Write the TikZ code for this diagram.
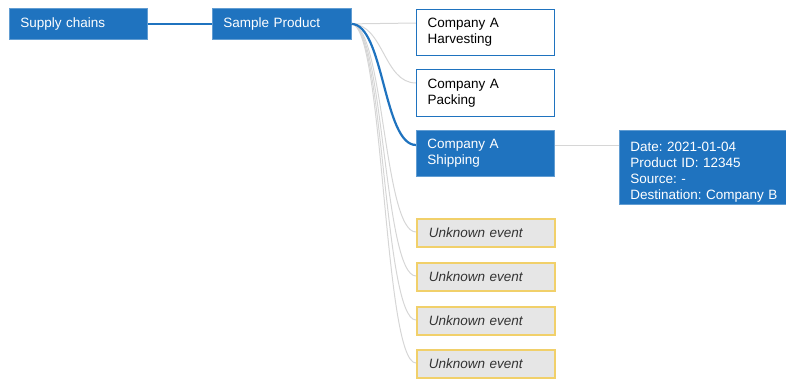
\documentclass[tikz,border=0pt]{standalone}
\usepackage{fontspec}
\setmainfont{Liberation Sans}
\frenchspacing
\definecolor{bblue}{HTML}{1F73BF}
\definecolor{ylw}{HTML}{F1D06A}
\definecolor{ufill}{HTML}{E6E6E6}
\definecolor{lgray}{HTML}{D6D6D6}
\definecolor{utext}{HTML}{333333}
\tikzset{
  base/.style={anchor=north west, inner xsep=11pt, inner ysep=0pt, align=left,
    font=\fontsize{13.5}{16}\selectfont\frenchspacing},
  bluebox/.style={base, fill=bblue, draw=bblue!70!white, line width=0.8pt, text=white},
  whitebox/.style={base, fill=white, draw=bblue, line width=1.2pt, text=black},
  unkbox/.style={base, fill=ufill, draw=ylw, line width=1.5pt, text=utext,
    font=\fontsize{13.5}{16}\selectfont\itshape, inner xsep=12pt},
  glink/.style={draw=lgray, line width=1pt},
  blink/.style={draw=bblue, line width=2.2pt},
}
\begin{document}
\begin{tikzpicture}[x=1pt,y=-1pt]
\useasboundingbox (0,0) rectangle (786,378);
% nodes
\node[bluebox, minimum width=138pt, minimum height=31pt, text width=116pt] (sc) at (9,8) {Supply chains};
\node[bluebox, minimum width=139pt, minimum height=31pt, text width=117pt] (sp) at (212,8) {Sample Product};
% links (behind target boxes)
\draw[blink] (sc.east) -- (sp.west);
\coordinate (s) at ([xshift=-0.5pt]sp.east);
\coordinate (th) at (416,23);
\coordinate (tp) at (416,83);
\coordinate (ts) at (416,145);
\coordinate (u1) at (416,232);
\coordinate (u2) at (416,276);
\coordinate (u3) at (416,320);
\coordinate (u4) at (416,363);
\foreach \t in {th,tp,u1,u2,u3,u4}{
  \draw[glink] (s) .. controls +(32.5,0) and +(-32.5,0) .. (\t);
}
\draw[blink] (s) .. controls +(32.5,0) and +(-32.5,0) .. (ts);
\node[whitebox, minimum width=138pt, minimum height=46pt, text width=116pt] (h) at (416,9) {Company A\\Harvesting};
\node[whitebox, minimum width=138pt, minimum height=47pt, text width=116pt] (p) at (416,69) {Company A\\Packing};
\node[bluebox, minimum width=138pt, minimum height=46pt, text width=116pt] (sh) at (416,130) {Company A\\Shipping};
\node[bluebox, minimum width=167pt, minimum height=74pt, text width=150pt] (d) at (619,130) {\rule{0pt}{19pt}Date: 2021-01-04\\Product ID: 12345\\Source: -\\Destination: Company B};
\draw[glink] (ts -| sh.east) -- (ts -| d.west);
\node[unkbox, minimum width=138pt, minimum height=28pt, text width=114pt] (e1) at (416,218) {Unknown event};
\node[unkbox, minimum width=138pt, minimum height=28pt, text width=114pt] (e2) at (416,262) {Unknown event};
\node[unkbox, minimum width=138pt, minimum height=28pt, text width=114pt] (e3) at (416,306) {Unknown event};
\node[unkbox, minimum width=138pt, minimum height=28pt, text width=114pt] (e4) at (416,349) {Unknown event};
\end{tikzpicture}
\end{document}
